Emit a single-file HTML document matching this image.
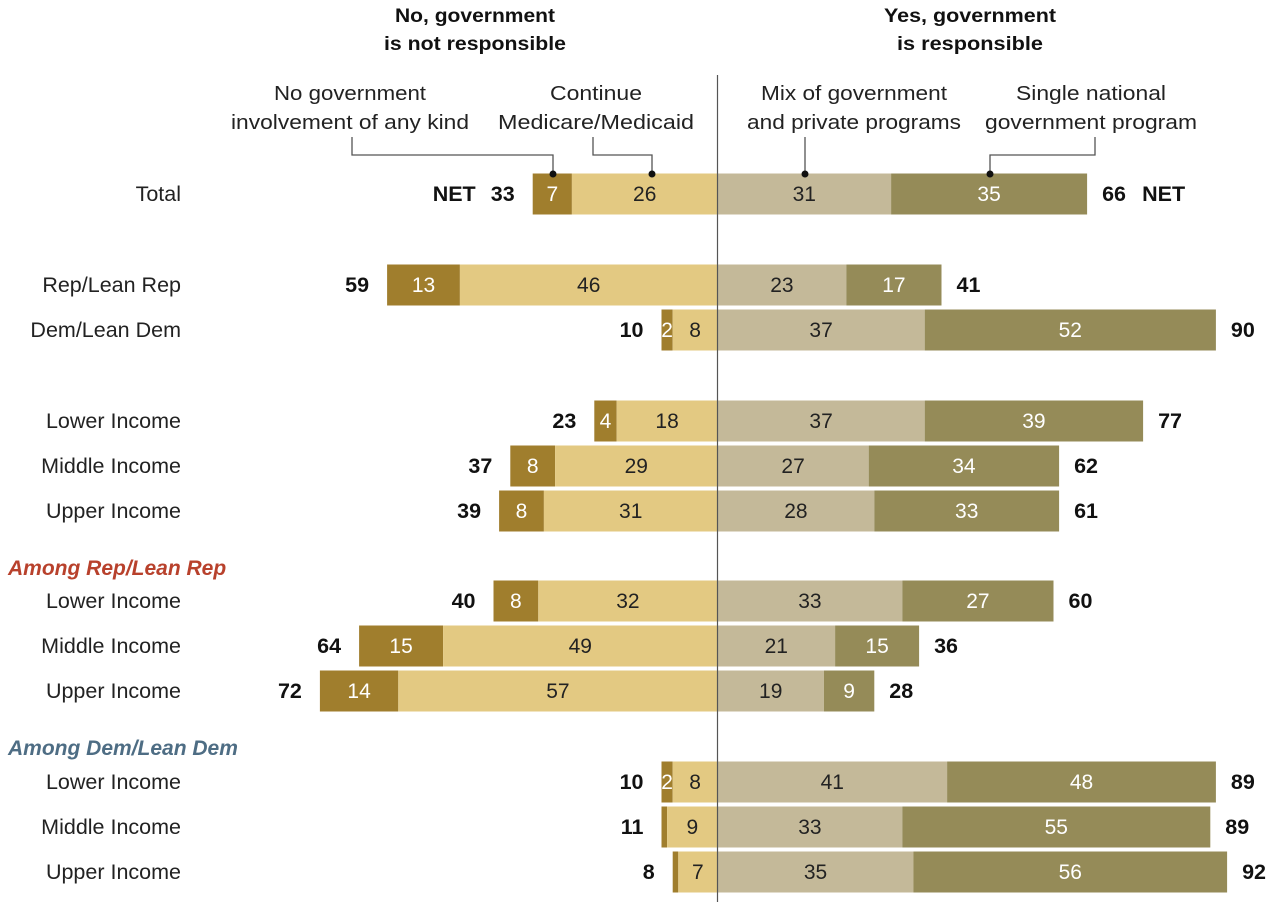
<!DOCTYPE html>
<html><head><meta charset="utf-8"><style>
html,body{margin:0;padding:0;background:#fff}
svg text{font-family:"Liberation Sans",sans-serif}
</style></head><body>
<svg id="chart" width="1280" height="908" viewBox="0 0 1280 908" xmlns="http://www.w3.org/2000/svg">
<g font-weight="bold" font-size="19" text-anchor="middle" fill="#111">
<text x="475" y="22" textLength="160" lengthAdjust="spacingAndGlyphs">No, government</text>
<text x="475" y="50" textLength="182" lengthAdjust="spacingAndGlyphs">is not responsible</text>
<text x="970" y="22" textLength="172" lengthAdjust="spacingAndGlyphs">Yes, government</text>
<text x="970" y="50" textLength="146" lengthAdjust="spacingAndGlyphs">is responsible</text>
</g>
<g font-size="20" text-anchor="middle" fill="#222">
<text x="350" y="100" textLength="152" lengthAdjust="spacingAndGlyphs">No government</text>
<text x="350" y="129" textLength="238" lengthAdjust="spacingAndGlyphs">involvement of any kind</text>
<text x="596" y="100" textLength="92" lengthAdjust="spacingAndGlyphs">Continue</text>
<text x="596" y="129" textLength="196" lengthAdjust="spacingAndGlyphs">Medicare/Medicaid</text>
<text x="854" y="100" textLength="186" lengthAdjust="spacingAndGlyphs">Mix of government</text>
<text x="854" y="129" textLength="214" lengthAdjust="spacingAndGlyphs">and private programs</text>
<text x="1091" y="100" textLength="150" lengthAdjust="spacingAndGlyphs">Single national</text>
<text x="1091" y="129" textLength="212" lengthAdjust="spacingAndGlyphs">government program</text>
</g>
<g fill="none" stroke="#555" stroke-width="1.3">
<polyline points="352,137 352,155 553,155 553,174"/>
<polyline points="593,137 593,155 652,155 652,174"/>
<polyline points="805,137 805,174"/>
<polyline points="1095,137 1095,155 990,155 990,174"/>
</g>
<g id="bars"></g>
<g fill="#111">
<circle cx="553" cy="174" r="3.5"/><circle cx="652" cy="174" r="3.5"/><circle cx="805" cy="174" r="3.5"/><circle cx="990" cy="174" r="3.5"/>
</g>
<line x1="717.5" y1="75" x2="717.5" y2="902" stroke="#555" stroke-width="1.2"/>
</svg>
<script>
const rowLabels=["Total","Rep/Lean Rep","Dem/Lean Dem","Lower Income","Middle Income","Upper Income","Lower Income","Middle Income","Upper Income","Lower Income","Middle Income","Upper Income"];
const noGov=[7,13,2,4,8,8,8,15,14,2,1,1];
const contMed=[26,46,8,18,29,31,32,49,57,8,9,7];
const mixProg=[31,23,37,37,27,28,33,21,19,41,33,35];
const singleProg=[35,17,52,39,34,33,27,15,9,48,55,56];
const netNo=[33,59,10,23,37,39,40,64,72,10,11,8];
const netYes=[66,41,90,77,62,61,60,36,28,89,89,92];
const rowY=[194,285,330,421,466,511,601,646,691,782,827,872];
const sections=[{t:"Among Rep/Lean Rep",y:568,c:"#b8412c"},{t:"Among Dem/Lean Dem",y:748,c:"#4e6d84"}];

const cx=717.5,k=5.6,bh=41;
const xs=v=>v*k;
const NS="http://www.w3.org/2000/svg";
const g=document.getElementById('bars');
function mk(tag,at,txt){const e=document.createElementNS(NS,tag);for(const a in at)e.setAttribute(a,at[a]);if(txt!==undefined)e.textContent=txt;g.appendChild(e);return e;}
const cols=["#a07e2d","#e3c982","#c4b999","#958b58"];
rowLabels.forEach((lab,i)=>{
  const y=rowY[i];
  const t=mk('text',{x:181,y:y+7,'font-size':21.5,'text-anchor':'end',fill:'#222'},lab);
  
  
  const segs=[
    {v:noGov[i],x0:cx-xs(noGov[i]+contMed[i]),c:cols[0],tc:'#fff',n:'bar-no-government'},
    {v:contMed[i],x0:cx-xs(contMed[i]),c:cols[1],tc:'#222',n:'bar-continue-medicare'},
    {v:mixProg[i],x0:cx,c:cols[2],tc:'#222',n:'bar-mix-programs'},
    {v:singleProg[i],x0:cx+xs(mixProg[i]),c:cols[3],tc:'#fff',n:'bar-single-program'}];
  segs.forEach(s=>{
    const r=mk('rect',{x:s.x0,y:y-bh/2,width:xs(s.v),height:bh,fill:s.c});
    
    
    if(s.v>=2){
      const tt=mk('text',{x:s.x0+xs(s.v)/2,y:y+7,'font-size':21,'text-anchor':'middle',fill:s.tc},String(s.v));
      
      
    }
  });
  const lx=cx-xs(noGov[i]+contMed[i])-18;
  const nl=mk('text',{x:lx,y:y+7,'font-size':21.5,'font-weight':'bold','text-anchor':'end',fill:'#111'},String(netNo[i]));
  
  
  const rx=cx+xs(mixProg[i]+singleProg[i])+15;
  const nr=mk('text',{x:rx,y:y+7,'font-size':21.5,'font-weight':'bold','text-anchor':'start',fill:'#111'},String(netYes[i]));
  
  
  if(i===0){
    const a=mk('text',{x:lx-39,y:y+7,'font-size':21.5,'font-weight':'bold','text-anchor':'end',fill:'#111'},'NET');
    
    
    const b=mk('text',{x:rx+40,y:y+7,'font-size':21.5,'font-weight':'bold','text-anchor':'start',fill:'#111'},'NET');
    
    
  }
});
sections.forEach(s=>{
  const t=mk('text',{x:8,y:s.y+7,'font-size':21,'font-weight':'bold','font-style':'italic',fill:s.c},s.t);
  
  
});
</script>
</body></html>
